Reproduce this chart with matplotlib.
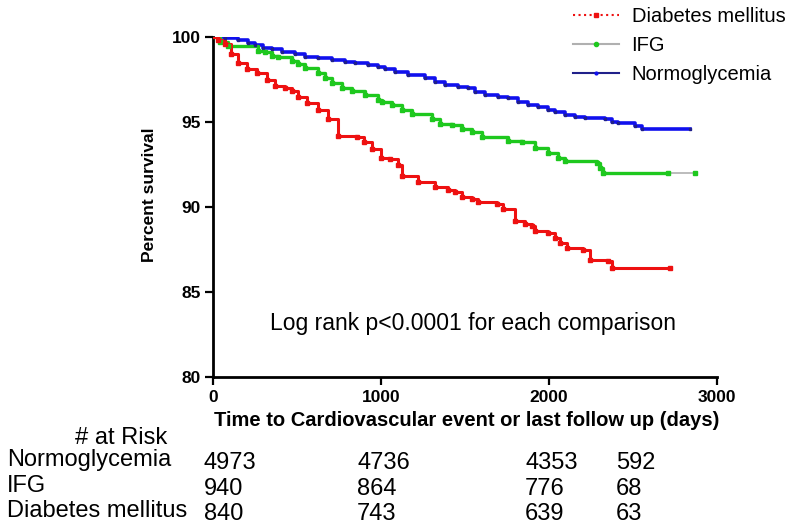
import matplotlib
matplotlib.use("Agg")
import matplotlib.pyplot as plt
from matplotlib.lines import Line2D

plt.rcParams['font.family'] = ['Liberation Sans', 'DejaVu Sans']

# ---- data ----
dm_t = [0, 30, 71, 110, 149, 202, 262, 320, 369, 429, 470, 506, 560, 625, 685, 744, 857, 900, 946,
        1000, 1054, 1101, 1125, 1220, 1321, 1400, 1440, 1482, 1542, 1577, 1690, 1726, 1798, 1857,
        1899, 1917, 1994, 2036, 2065, 2107, 2202, 2244, 2351, 2375, 2720]
dm_s = [100, 99.8, 99.6, 99.0, 98.5, 98.1, 97.9, 97.5, 97.1, 97.0, 96.8, 96.5, 96.1, 95.7, 95.2, 94.2,
        94.1, 93.8, 93.4, 92.9, 92.8, 92.5, 91.8, 91.5, 91.2, 91.0, 90.9, 90.6, 90.5, 90.3, 90.2,
        89.9, 89.2, 89.0, 88.9, 88.6, 88.5, 88.2, 87.9, 87.6, 87.5, 86.9, 86.8, 86.4, 86.4]

ifg_t = [0, 41, 89, 268, 310, 351, 387, 470, 506, 548, 625, 667, 708, 768, 827, 905, 982, 1006, 1065,
         1125, 1185, 1304, 1351, 1423, 1482, 1542, 1601, 1756, 1839, 1917, 1994, 2054, 2095, 2286,
         2304, 2321, 2708, 2870]
ifg_s = [100, 99.7, 99.5, 99.2, 99.1, 98.9, 98.8, 98.6, 98.4, 98.2, 97.9, 97.6, 97.3, 97.0, 96.8, 96.6,
         96.3, 96.2, 96.0, 95.7, 95.5, 95.2, 94.9, 94.8, 94.6, 94.4, 94.1, 93.9, 93.8, 93.5, 93.2, 92.9,
         92.7, 92.6, 92.3, 92.0, 92.0, 92.0]

norm_t = [0, 71, 151, 210, 250, 300, 349, 409, 488, 548, 627, 706, 786, 845, 925, 984, 1024, 1083,
          1163, 1262, 1321, 1381, 1460, 1520, 1560, 1619, 1698, 1758, 1817, 1877, 1936, 1996, 2036,
          2095, 2155, 2214, 2333, 2373, 2413, 2512, 2552, 2839]
norm_s = [100, 99.92, 99.82, 99.67, 99.53, 99.33, 99.27, 99.14, 99.0, 98.84, 98.75, 98.65, 98.55,
          98.45, 98.33, 98.22, 98.10, 97.96, 97.76, 97.57, 97.37, 97.18, 97.08, 96.98, 96.78, 96.59,
          96.49, 96.39, 96.20, 96.00, 95.86, 95.71, 95.61, 95.41, 95.31, 95.22, 95.16, 95.02, 94.92,
          94.76, 94.57, 94.57]

risk_groups = ["Normoglycemia", "IFG", "Diabetes mellitus"]
risk_counts = [[4973, 4736, 4353, 592],
               [940, 864, 776, 68],
               [840, 743, 639, 63]]

x_ticks = [0, 1000, 2000, 3000]
y_ticks = [80, 85, 90, 95, 100]

RED = "#ee1111"
GREEN = "#1ec81e"
BLUE = "#1010ee"
NAVY = "#20208a"
GRAY = "#b0b0b0"

W, H = 800, 532
fig = plt.figure(figsize=(W / 100, H / 100), dpi=100)
ax = fig.add_axes([213 / W, 1 - 377 / H, (717 - 213) / W, (377 - 37) / H])

# Normoglycemia
ax.step(norm_t, norm_s, where='post', color=BLUE, lw=2.6, zorder=3)
ax.plot(norm_t[1:], norm_s[1:], ls='none', marker='s', ms=1.8, color=NAVY, zorder=4)
# IFG
ax.step(ifg_t, ifg_s, where='post', color=GRAY, lw=1.2, zorder=2)
ax.step(ifg_t[:-1], ifg_s[:-1], where='post', color=GREEN, lw=2.4, zorder=3)
ax.plot(ifg_t[1:], ifg_s[1:], ls='none', marker='s', ms=2.5, color=GREEN, zorder=4)
# Diabetes mellitus
ax.step(dm_t, dm_s, where='post', color=RED, lw=2.2, zorder=3)
ax.plot(dm_t[1:], dm_s[1:], ls='none', marker='s', ms=2.5, color=RED, zorder=4)

ax.set_xlim(0, 3000)
ax.set_ylim(80, 100)
ax.set_xticks(x_ticks)
ax.set_yticks(y_ticks)
ax.set_xticklabels([str(v) for v in x_ticks], fontsize=12.5, fontweight='bold')
ax.set_yticklabels([str(v) for v in y_ticks], fontsize=12.5, fontweight='bold')
ax.tick_params(direction='out', length=6, width=1.6, pad=3)
for s in ['top', 'right']:
    ax.spines[s].set_visible(False)
for s in ['left', 'bottom']:
    ax.spines[s].set_linewidth(2)

ax.set_xlabel("Time to Cardiovascular event or last follow up (days)", fontsize=14.5,
              fontweight='bold', va='center')
ax.xaxis.set_label_coords((467 - 213) / 504, (377 - 421) / 340)
ax.set_ylabel("Percent survival", fontsize=12.5, fontweight='bold')
ax.yaxis.set_label_coords((157 - 213) / 504, (377 - 195) / 340)

ax.text(1545, 83.15, "Log rank p<0.0001 for each comparison", fontsize=16.5,
        ha='center', va='center')

handles = [
    Line2D([], [], color=RED, lw=1.5, ls=':', marker='s', ms=3),
    Line2D([], [], color=GRAY, lw=1.5, marker='o', ms=3, mfc=GREEN, mec=GREEN),
    Line2D([], [], color=NAVY, lw=1.5, marker='o', ms=2, mfc=BLUE, mec=BLUE),
]
leg = fig.legend(handles, ["Diabetes mellitus", "IFG", "Normoglycemia"],
                 loc='upper left', bbox_to_anchor=(559 / W, 1 + 7 / H), frameon=False,
                 fontsize=14.5, handlelength=2.3, handletextpad=0.6, labelspacing=0.5,
                 borderpad=0.2, numpoints=1)

# at-risk table
def fx(px):
    return px / W

def fy(py):
    return 1 - py / H

fig.text(fx(75), fy(438), "# at Risk", fontsize=17, ha='left', va='center')
row_y = [460, 486, 511]
col_x = [204, 357, 525, 616]
for name, counts, y in zip(risk_groups, risk_counts, row_y):
    fig.text(fx(7), fy(y), name, fontsize=17, ha='left', va='center')
    for c, x in zip(counts, col_x):
        fig.text(fx(x), fy(y + 3), str(c), fontsize=17, ha='left', va='center')

fig.savefig("out.png", dpi=100)
